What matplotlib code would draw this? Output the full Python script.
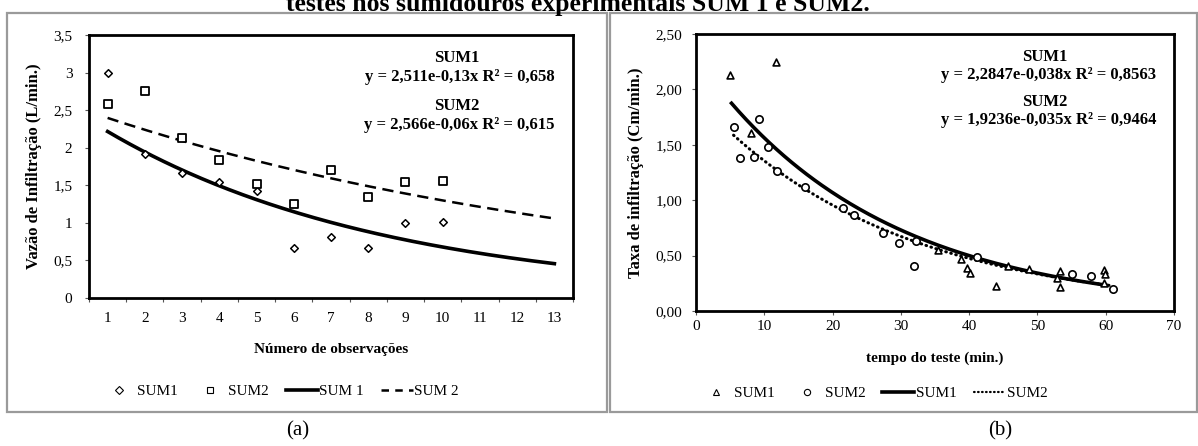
import numpy as np
import matplotlib.pyplot as plt
from matplotlib.patches import Rectangle
from matplotlib.lines import Line2D

plt.rcParams['font.family'] = ['Liberation Serif', 'DejaVu Serif']

# (a) flow per observation
obs = [1, 2, 3, 4, 5, 6, 7, 8, 9, 10]
sum1_a = [3.00, 1.92, 1.67, 1.55, 1.42, 0.67, 0.81, 0.66, 1.00, 1.01]
sum2_a = [2.58, 2.75, 2.13, 1.83, 1.52, 1.25, 1.70, 1.35, 1.55, 1.56]
x_labels_a = [str(i) for i in range(1, 14)]

# (b) infiltration rate vs test time
t_sum1 = [5.0, 8.0, 11.7, 35.5, 38.8, 39.7, 40.1, 44.0, 45.7, 48.8,
          52.8, 53.3, 53.3, 59.7, 59.8, 59.9]
r_sum1 = [2.13, 1.61, 2.25, 0.55, 0.47, 0.39, 0.34, 0.23, 0.41, 0.38,
          0.30, 0.36, 0.22, 0.25, 0.37, 0.33]
t_sum2 = [5.5, 6.5, 8.5, 9.2, 10.6, 11.8, 16.0, 21.5, 23.2, 27.4,
          29.7, 31.9, 32.2, 41.1, 55.0, 57.8, 61.0]
r_sum2 = [1.66, 1.38, 1.39, 1.73, 1.48, 1.26, 1.12, 0.93, 0.87, 0.70,
          0.61, 0.41, 0.63, 0.49, 0.33, 0.32, 0.20]
# exponential trend coefficients shown on panel (b)
fit_b1 = (2.2847, -0.038)
fit_b2 = (1.9236, -0.035)

W, H = 1198, 446
fig = plt.figure(figsize=(W / 100, H / 100), dpi=100)


def fx(px):
    return px / W


def fy(py):
    return 1 - py / H


# gray panel frames
for x0, x1 in [(7, 607), (610, 1197)]:
    fig.patches.append(Rectangle((fx(x0), fy(412)), fx(x1 - x0), (412 - 13) / H,
                                 transform=fig.transFigure, fill=False,
                                 edgecolor='#9a9a9a', lw=1.6))

# title of the figure, cut off by the top edge as in the source page
fig.text(fx(578), fy(11), 'testes nos sumidouros experimentais SUM 1 e SUM2.',
         ha='center', va='baseline', fontsize=18.5, fontweight='bold')


def style_axes(ax, ypad):
    for s in ax.spines.values():
        s.set_linewidth(2)
        s.set_color('black')
    ax.tick_params(axis='both', labelsize=11, length=3, width=0.8,
                   direction='out', color='#555555')
    ax.tick_params(axis='y', pad=ypad)


# ---------- panel (a) ----------
ax1 = fig.add_axes([fx(89), fy(298), fx(573 - 89), (298 - 35) / H])
ax1.scatter(obs, sum1_a, marker='D', s=15, facecolors='white',
            edgecolors='black', linewidths=1.1, zorder=3)
ax1.scatter(obs, sum2_a, marker='s', s=30, facecolors='white',
            edgecolors='black', linewidths=1.3, zorder=3)

xs = np.linspace(1, 13, 200)
k1, b1 = np.polyfit(obs, np.log(sum1_a), 1)
k2, b2 = np.polyfit(obs, np.log(sum2_a), 1)
ax1.plot(xs, np.exp(b1) * np.exp(k1 * xs), color='black', lw=2.6)
ax1.plot(xs, np.exp(b2) * np.exp(k2 * xs), color='black', lw=1.8,
         dashes=(4.5, 2.6))

ax1.set_xlim(0.5, 13.5)
ax1.set_ylim(0, 3.5)
ax1.set_xticks(np.arange(0.5, 13.6, 1))
ax1.set_xticklabels([])
ax1.set_xticks(range(1, 14), minor=True)
ax1.set_xticklabels(x_labels_a, minor=True)
yt = np.arange(0, 3.51, 0.5)
ax1.set_yticks(yt)
ax1.set_yticklabels([f'{v:g}'.replace('.', ',') for v in yt])
style_axes(ax1, 9)
ax1.tick_params(axis='x', which='minor', length=0, pad=10, labelsize=11)
ax1.set_xlabel('Número de observações', fontweight='bold', fontsize=11,
               labelpad=13)
ax1.set_ylabel('Vazão de Infiltração (L/min.)', fontweight='bold',
               fontsize=12, labelpad=8)

ax1.text(fx(457), fy(58), 'SUM1', transform=fig.transFigure, ha='center',
         va='center', fontweight='bold', fontsize=12)
ax1.text(fx(555), fy(77), 'y = 2,511e-0,13x R² = 0,658',
         transform=fig.transFigure, ha='right', va='center',
         fontweight='bold', fontsize=12)
ax1.text(fx(457), fy(106), 'SUM2', transform=fig.transFigure, ha='center',
         va='center', fontweight='bold', fontsize=12)
ax1.text(fx(555), fy(125), 'y = 2,566e-0,06x R² = 0,615',
         transform=fig.transFigure, ha='right', va='center',
         fontweight='bold', fontsize=12)

handles_a = [
    Line2D([], [], ls='none', marker='D', ms=4, mfc='white', mec='black', mew=0.8),
    Line2D([], [], ls='none', marker='s', ms=5, mfc='white', mec='black', mew=0.8),
    Line2D([], [], color='black', lw=2.6),
    Line2D([], [], color='black', lw=1.8, dashes=(3, 2.5)),
]
fig.legend(handles_a, ['SUM1', 'SUM2', 'SUM 1', 'SUM 2'], ncol=4,
           loc='center', bbox_to_anchor=(fx(281), fy(391)), frameon=False,
           fontsize=11, handlelength=2.1, handletextpad=0.1,
           columnspacing=1.1)

fig.text(fx(298), fy(431), '(a)', ha='center', va='center', fontsize=15)

# ---------- panel (b) ----------
ax2 = fig.add_axes([fx(696), fy(311), fx(1174 - 696), (311 - 34) / H])
ax2.scatter(t_sum1, r_sum1, marker='^', s=24, facecolors='white',
            edgecolors='black', linewidths=1.2, zorder=3)
ax2.scatter(t_sum2, r_sum2, marker='o', s=28, facecolors='white',
            edgecolors='black', linewidths=1.2, zorder=3)

tb1 = np.linspace(5.2, 60, 200)
tb2 = np.linspace(5.5, 61, 200)
ax2.plot(tb1, fit_b1[0] * np.exp(fit_b1[1] * tb1), color='black', lw=2.6)
ax2.plot(tb2, fit_b2[0] * np.exp(fit_b2[1] * tb2), color='black', lw=2.2,
         ls=(0, (0.2, 1.5)), dash_capstyle='round')

ax2.set_xlim(0, 70)
ax2.set_ylim(0, 2.5)
ax2.set_xticks(range(0, 71, 10))
yt2 = np.arange(0, 2.51, 0.5)
ax2.set_yticks(yt2)
ax2.set_yticklabels([f'{v:.2f}'.replace('.', ',') for v in yt2])
style_axes(ax2, 7)
ax2.set_xlabel('tempo do teste (min.)', fontweight='bold', fontsize=11,
               labelpad=13)
ax2.set_ylabel('Taxa de infiltração (Cm/min.)', fontweight='bold',
               fontsize=12, labelpad=8)

ax2.text(fx(1045), fy(57), 'SUM1', transform=fig.transFigure, ha='center',
         va='center', fontweight='bold', fontsize=12)
ax2.text(fx(1156), fy(75), 'y = 2,2847e-0,038x R² = 0,8563',
         transform=fig.transFigure, ha='right', va='center',
         fontweight='bold', fontsize=12)
ax2.text(fx(1045), fy(102), 'SUM2', transform=fig.transFigure, ha='center',
         va='center', fontweight='bold', fontsize=12)
ax2.text(fx(1156), fy(120), 'y = 1,9236e-0,035x R² = 0,9464',
         transform=fig.transFigure, ha='right', va='center',
         fontweight='bold', fontsize=12)

handles_b = [
    Line2D([], [], ls='none', marker='^', ms=4.5, mfc='white', mec='black', mew=0.8),
    Line2D([], [], ls='none', marker='o', ms=4.5, mfc='white', mec='black', mew=0.8),
    Line2D([], [], color='black', lw=2.6),
    Line2D([], [], color='black', lw=1.6, ls=(0, (0.3, 1.5)), dash_capstyle='round'),
]
fig.legend(handles_b, ['SUM1', 'SUM2', 'SUM1', 'SUM2'], ncol=4,
           loc='center', bbox_to_anchor=(fx(874), fy(393)), frameon=False,
           fontsize=11, handlelength=2.1, handletextpad=0.1,
           columnspacing=1.1)

fig.text(fx(1000), fy(431), '(b)', ha='center', va='center', fontsize=15)

fig.savefig('out.png', dpi=100)
